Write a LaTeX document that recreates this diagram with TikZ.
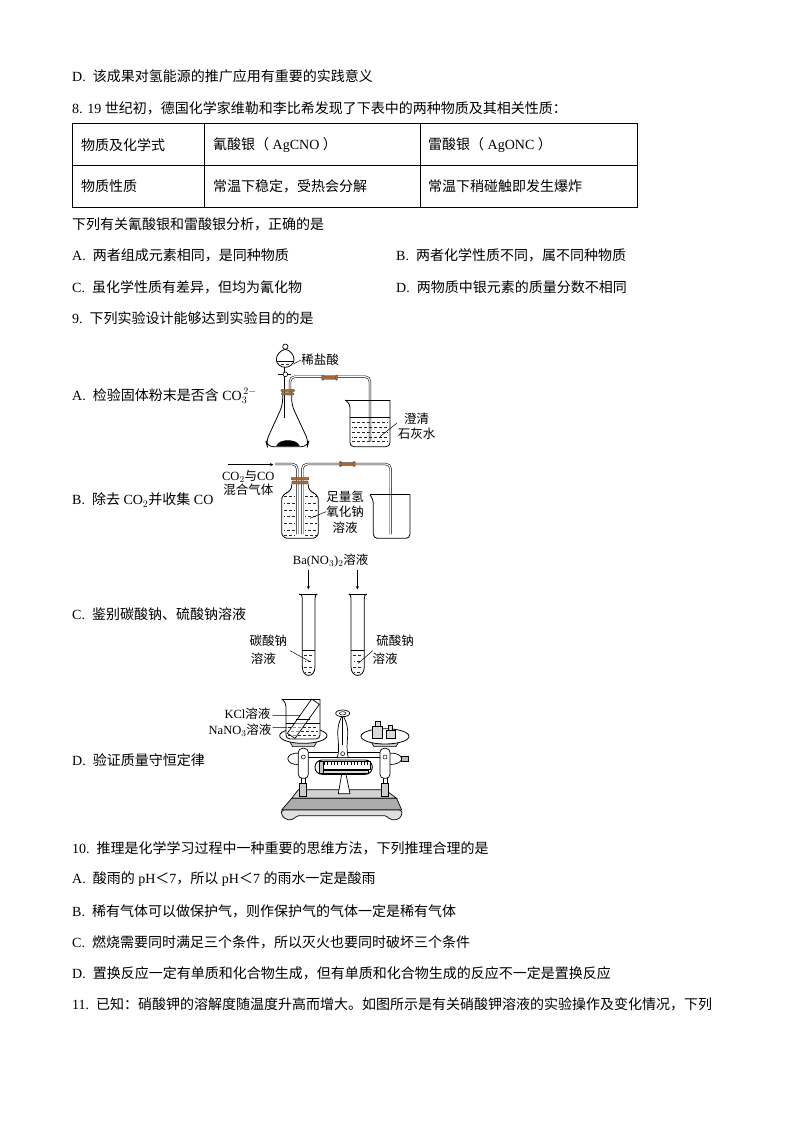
\documentclass[tikz,border=0pt]{standalone}
\usepackage{fontspec}
\setmainfont{Liberation Serif}
\newfontfamily\cjk{Noto Sans CJK SC}
\newcommand{\zh}[1]{{\cjk #1}}
% full-width punctuation
\newcommand{\fcomma}{\symbol{"FF0C}}
\newcommand{\fcolon}{\symbol{"FF1A}}
\newcommand{\fopen}{\symbol{"FF08}}
\newcommand{\fclose}{\symbol{"FF09}}
\newcommand{\fless}{\symbol{"FF1C}}
\definecolor{stopper}{RGB}{165,105,55}
\tikzset{
	line/.style = {anchor=west, inner sep=0pt, font=\fontsize{14}{16}\selectfont},
	lab/.style = {inner sep=0pt, font=\fontsize{12.5}{14}\selectfont},
	tube/.style = {double, double distance=1.2pt, line width=0.55pt, rounded corners=5pt},
	glass/.style = {line width=0.8pt, rounded corners=4pt},
	liq/.style = {line width=0.45pt, black!85, dash pattern=on 3pt off 2pt},
	liqb/.style = {liq, dash phase=2.5pt},
	leader/.style = {line width=0.5pt},
	brass/.style = {draw, line width=0.5pt, fill=gray!30},
	capsule/.style = {draw, fill=white, line width=0.7pt, rounded corners=4pt},
	rubber/.style = {fill=stopper, draw=black!70, line width=0.3pt, rounded corners=1pt}
}
\begin{document}
\begin{tikzpicture}[x=1pt, y=-1pt]
	\useasboundingbox (0,0) rectangle (794,1123);
	% text above the table
	\node [line] (l1) at (72,76) {D.\ \ \zh{该成果对氢能源的推广应用有重要的实践意义}};
	\node [line] (l2) at (72,108) {8. 19 \zh{世纪初\fcomma 德国化学家维勒和李比希发现了下表中的两种物质及其相关性质\fcolon}};
	% table
	\draw [line width=0.7pt] (72,123.5) rectangle (637,207.5);
	\draw [line width=0.7pt] (72,165.5) -- (637,165.5);
	\draw [line width=0.7pt] (204.5,123.5) -- (204.5,207.5);
	\draw [line width=0.7pt] (420.5,123.5) -- (420.5,207.5);
	\node [line] (c11) at (81,145) {\zh{物质及化学式}};
	\node [line] (c12) at (213,145) {\zh{氰酸银\fopen}\ AgCNO\ \zh{\fclose}};
	\node [line] (c13) at (428,145) {\zh{雷酸银\fopen}\ AgONC\ \zh{\fclose}};
	\node [line] (c21) at (81,186) {\zh{物质性质}};
	\node [line] (c22) at (213,186) {\zh{常温下稳定\fcomma 受热会分解}};
	\node [line] (c23) at (428,186) {\zh{常温下稍碰触即发生爆炸}};
	% questions
	\node [line] (l3) at (72,224) {\zh{下列有关氰酸银和雷酸银分析\fcomma 正确的是}};
	\node [line] (l4a) at (72,255) {A.\ \ \zh{两者组成元素相同\fcomma 是同种物质}};
	\node [line] (l4b) at (396,255) {B.\ \ \zh{两者化学性质不同\fcomma 属不同种物质}};
	\node [line] (l5a) at (72,287) {C.\ \ \zh{虽化学性质有差异\fcomma 但均为氰化物}};
	\node [line] (l5b) at (396,287) {D.\ \ \zh{两物质中银元素的质量分数不相同}};
	\node [line] (l6) at (72,318) {9.\ \ \zh{下列实验设计能够达到实验目的的是}};
	\node [line] (optA) at (72,396) {A.\ \ \zh{检验固体粉末是否含} CO$_{3}^{\,2-}$};
	\node [line] (optB) at (72,500) {B.\ \ \zh{除去} CO$_{2}$\zh{并收集} CO};
	\node [line] (optC) at (72,614) {C.\ \ \zh{鉴别碳酸钠、硫酸钠溶液}};
	\node [line] (optD) at (72,760) {D.\ \ \zh{验证质量守恒定律}};
	\node [line] (l7) at (72,848) {10.\ \ \zh{推理是化学学习过程中一种重要的思维方法\fcomma 下列推理合理的是}};
	\node [line] (l8) at (72,879) {A.\ \ \zh{酸雨的} pH\zh{\fless}7\zh{\fcomma 所以} pH\zh{\fless}7 \zh{的雨水一定是酸雨}};
	\node [line] (l9) at (72,911) {B.\ \ \zh{稀有气体可以做保护气\fcomma 则作保护气的气体一定是稀有气体}};
	\node [line] (l10) at (72,942) {C.\ \ \zh{燃烧需要同时满足三个条件\fcomma 所以灭火也要同时破坏三个条件}};
	\node [line] (l11) at (72,973) {D.\ \ \zh{置换反应一定有单质和化合物生成\fcomma 但有单质和化合物生成的反应不一定是置换反应}};
	\node [line] (l12) at (72,1004) {11.\ \ \zh{已知\fcolon 硝酸钾的溶解度随温度升高而增大。如图所示是有关硝酸钾溶液的实验操作及变化情况\fcomma 下列}};
	% flask and gas bottle
	\begin{scope}[shift={(210,340)}, scale=1/3]
		% funnel
		\draw [line width=0.7pt] (226,20) circle (8);
		\draw [tube] (226,82) -- (226,235);
		\draw [line width=0.8pt, fill=white] (226,28) .. controls (240,30) and (253,45) .. (252,60) .. controls (251,72) and (238,82) .. (226,82) .. controls (212,82) and (200,72) .. (199,60) .. controls (198,45) and (212,30) .. (226,28) -- cycle;
		\draw [leader] (200,65) -- (252,65);
		\draw [liq] (212,72) -- (240,72);
		\draw [line width=1pt] (205,103) -- (242,103);
		\draw [fill=white, line width=0.6pt] (226,103) circle (7);
		% flask
		\draw [glass, rounded corners=6pt] (218,148) -- (218,195) -- (168,305) -- (172,320) -- (292,320) -- (296,305) -- (245,195) -- (245,148);
		\draw [fill=black] (200,318) .. controls (205,296) and (262,296) .. (268,318) -- cycle;
		% delivery tube
		\draw [tube] (240,165) -- (240,110) -- (480,110) -- (480,305);
		\draw [rubber] (212,148) rectangle (254,155);
		\draw [rubber] (214,158) rectangle (252,165);
		\draw [rubber] (340,108) rectangle (378,118);
		\draw [rubber] (335,105) rectangle (342,121);
		\draw [rubber] (376,105) rectangle (383,121);
		% beaker
		\draw [glass] (405,180) -- (420,190) -- (420,320) -- (540,320) -- (540,180);
		\draw [line width=0.5pt] (405,180) -- (540,180);
		\draw [line width=0.5pt] (420,232) -- (540,232);
		\foreach \y in {247,277,305}
			\draw [liq] (425,\y) -- (535,\y);
		\foreach \y in {262,291}
			\draw [liqb] (425,\y) -- (535,\y);
		% bottle
		\draw [tube] (195,372) -- (262,372) -- (262,582);
		\draw [tube] (277,582) -- (277,372) -- (542,372) -- (542,582);
		\draw [glass, rounded corners=6pt] (245,432) -- (245,455) -- (215,462) -- (215,595) -- (325,595) -- (325,462) -- (295,455) -- (295,432);
		\draw [rubber] (243,412) rectangle (297,420);
		\draw [rubber] (245,423) rectangle (295,432);
		\draw [rubber] (392,367) rectangle (431,377);
		\draw [rubber] (388,364) rectangle (395,380);
		\draw [rubber] (429,364) rectangle (436,380);
		\foreach \y in {470,510,550,585} {
			\draw [liq] (222,\y) -- (254,\y);
			\draw [liq] (285,\y) -- (320,\y);
		}
		\foreach \y in {490,530,570} {
			\draw [liqb] (222,\y) -- (254,\y);
			\draw [liqb] (285,\y) -- (320,\y);
		}
		% second beaker
		\draw [glass] (480,465) -- (490,478) -- (490,595) -- (600,595) -- (600,463);
		\draw [line width=0.5pt] (480,464) -- (600,464);
		% labels
		\node [lab] (hcl) at (330,60) {\zh{稀盐酸}};
		\node [lab] (lime1) at (620,235) {\zh{澄清}};
		\node [lab] (lime2) at (620,280) {\zh{石灰水}};
		\node [lab] (naoh1) at (405,470) {\zh{足量氢}};
		\node [lab] (naoh2) at (405,515) {\zh{氧化钠}};
		\node [lab] (naoh3) at (405,562) {\zh{溶液}};
		\node [lab] (gas1) at (115,408) {CO$_2$\zh{与}CO};
		\node [lab] (gas2) at (115,450) {\zh{混合气体}};
		\coordinate (hclend) at (250,72);
		\coordinate (limeend) at (510,290);
		\coordinate (limestart) at (560,250);
		\coordinate (naohend) at (300,535);
		\coordinate (gasfrom) at (55,374);
		\coordinate (gasto) at (190,374);
		\draw [leader] (hclend) -- (hcl.west);
		\draw [leader] (limeend) -- (limestart);
		\draw [leader] (naohend) -- (naoh2.west);
		\draw [-stealth, leader] (gasfrom) -- (gasto);
	\end{scope}
	% test tubes
	\begin{scope}[shift={(200,545)}, scale=1/3]
		\node [lab] (reagent) at (392,47) {Ba(NO$_3$)$_2$\zh{溶液}};
		\coordinate (a1from) at (325,75);
		\coordinate (a1to) at (325,133);
		\coordinate (a2from) at (472,75);
		\coordinate (a2to) at (472,133);
		\draw [-stealth, leader] (a1from) -- (a1to);
		\draw [-stealth, leader] (a2from) -- (a2to);
		\draw [line width=0.8pt] (298,147) -- (352,147);
		\draw [line width=0.8pt] (298,147) .. controls (305,149) .. (307,160) -- (307,365) .. controls (307,400) and (345,400) .. (345,365) -- (345,160) .. controls (347,149) .. (352,147);
		\draw [line width=0.8pt] (446,147) -- (500,147);
		\draw [line width=0.8pt] (446,147) .. controls (451,149) .. (453,160) -- (453,365) .. controls (453,400) and (493,400) .. (493,365) -- (493,160) .. controls (495,149) .. (500,147);
		\draw [leader] (307,317) -- (345,317);
		\draw [leader] (453,317) -- (493,317);
		\foreach \y in {330,366} {
			\draw [liq] (312,\y) -- (340,\y);
			\draw [liq] (458,\y) -- (488,\y);
		}
		\foreach \y in {348,382} {
			\draw [liqb] (316,\y) -- (336,\y);
			\draw [liqb] (462,\y) -- (484,\y);
		}
		\node [lab] (left1) at (205,288) {\zh{碳酸钠}};
		\node [lab] (left2) at (190,340) {\zh{溶液}};
		\node [lab] (right1) at (585,288) {\zh{硫酸钠}};
		\node [lab] (right2) at (555,340) {\zh{溶液}};
		\coordinate (leftend) at (330,350);
		\coordinate (leftstart) at (270,317);
		\coordinate (rightend) at (475,355);
		\coordinate (rightstart) at (518,317);
		\draw [leader] (leftstart) -- (leftend);
		\draw [leader] (rightstart) -- (rightend);
	\end{scope}
	% balance
	\begin{scope}[shift={(200,695)}, scale=1/3]
		% base
		\draw [fill=gray!35, line width=0.7pt] (295,284) -- (555,284) -- (590,310) -- (275,310) -- cycle;
		\draw [fill=gray!65, line width=0.7pt] (275,310) -- (590,310) -- (605,345) -- (245,345) -- cycle;
		\draw [fill=gray!25, line width=0.7pt, rounded corners=2pt] (245,345) -- (605,345) -- (607,358) -- (595,374) -- (570,374) -- (560,362) -- (290,362) -- (280,374) -- (258,374) -- (243,358) -- cycle;
		% post
		\draw [fill=white, line width=0.7pt] (415,296) -- (425,238) -- (438,238) -- (450,296) -- cycle;
		% side bulges and knob
		\draw [fill=white, line width=0.7pt] (298,175) .. controls (252,170) and (252,212) .. (298,208) -- cycle;
		\draw [fill=white, line width=0.7pt] (565,175) .. controls (618,170) and (618,212) .. (565,208) -- cycle;
		\draw [fill=gray!55, line width=0.5pt] (605,184) rectangle (625,200);
		% small cylinders
		\draw [line width=0.7pt] (304,250) -- (304,265);
		\draw [line width=0.7pt] (316,250) -- (316,265);
		\draw [line width=0.7pt] (549,250) -- (549,265);
		\draw [line width=0.7pt] (561,250) -- (561,265);
		\draw [brass, fill=gray!40] (298,265) rectangle (320,304);
		\draw [brass, fill=gray!40] (543,265) rectangle (565,304);
		% beam
		\draw [fill=white, line width=0.7pt] (320,172) rectangle (545,186);
		% pan supports
		\draw [fill=gray!40, line width=0.6pt] (268,138) -- (352,138) -- (342,155) -- (278,155) -- cycle;
		\draw [fill=gray!40, line width=0.6pt] (512,138) -- (598,138) -- (588,155) -- (522,155) -- cycle;
		% columns
		\draw [capsule] (295,160) rectangle (325,250);
		\draw [capsule] (540,160) rectangle (570,250);
		\draw [line width=0.5pt] (310,186) circle (6);
		\draw [line width=0.5pt] (555,186) circle (6);
		% pointer
		\draw [fill=white, line width=0.7pt] (428,60) .. controls (398,110) and (425,140) .. (412,188) -- (445,188) .. controls (432,140) and (458,110) .. (428,60) -- cycle;
		\draw [line width=0.6pt] (428,62) -- (428,150);
		\draw [fill=white, line width=0.7pt] (428,55) ellipse (21 and 10);
		\draw [line width=0.5pt] (428,55) ellipse (10 and 5);
		\draw [line width=0.5pt] (428,176) circle (6);
		% scale
		\draw [fill=gray!10, line width=0.9pt, rounded corners=7pt] (345,195) rectangle (517,238);
		\draw [fill=white, line width=0.5pt] (358,200) rectangle (510,222);
		\draw [fill=gray!30, line width=0.4pt] (358,227) rectangle (505,236);
		\foreach \x in {372,382,...,502}
			\draw [line width=0.3pt] (\x,202) -- (\x,210);
		\draw [fill=gray!45, line width=0.4pt] (358,200) rectangle (370,236);
		% pans
		\draw [fill=white, line width=0.8pt] (310,122) ellipse (71 and 23);
		\draw [fill=white, line width=0.8pt] (555,124) ellipse (72 and 23);
		% weights
		\draw [brass] (518,95) rectangle (548,130);
		\draw [brass] (526,80) rectangle (540,95);
		\draw [brass] (558,105) rectangle (585,130);
		\draw [brass] (565,92) rectangle (578,105);
		% beaker on the pan
		\draw [glass, fill=white] (245,12) -- (258,22) -- (258,132) -- (360,132) -- (360,12);
		\draw [line width=0.5pt] (245,12) -- (360,12);
		\draw [leader] (258,85) -- (360,85);
		\foreach \y in {98,122}
			\draw [liq] (264,\y) -- (354,\y);
		\draw [liqb] (264,110) -- (354,110);
		\draw [line width=0.7pt, fill=white, fill opacity=0.5] (335,12) -- (358,28) -- (285,130) -- (262,115) -- cycle;
		\draw [leader] (288,72) -- (330,72);
		\node [lab, anchor=east] (kcl) at (212,55) {KCl\zh{溶液}};
		\node [lab, anchor=east] (nano) at (215,105) {NaNO$_3$\zh{溶液}};
		\coordinate (kclend) at (300,62);
		\coordinate (nanoend) at (262,97);
		\draw [leader] (kcl.east) ++(6,7) -- (kclend);
		\draw [leader] (nano.east) ++(3,-8) -- (nanoend);
	\end{scope}
\end{tikzpicture}
\end{document}
